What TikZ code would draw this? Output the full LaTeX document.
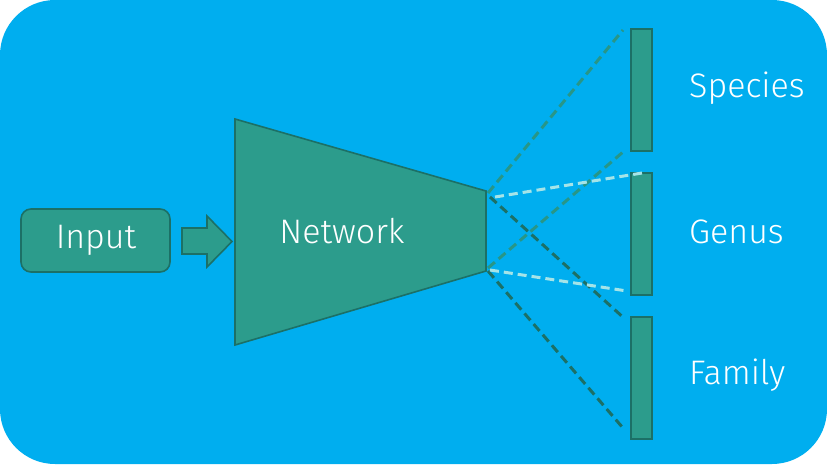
\documentclass[tikz,border=0pt]{standalone}
\usepackage{fontspec}
\setmainfont{Fira Sans Light}
\definecolor{sky}{RGB}{0,174,239}
\definecolor{tealfill}{RGB}{44,156,140}
\definecolor{tealline}{RGB}{28,112,102}
\definecolor{tealmid}{RGB}{40,150,135}
\definecolor{paleline}{RGB}{165,228,232}
\tikzset{
  block/.style={fill=tealfill, draw=tealline, line width=1.6pt},
  label/.style={text=white, font=\fontsize{34}{40}\selectfont, inner sep=0pt},
  link/.style={dashed, dash pattern=on 9pt off 5pt, line width=3pt},
  bar/.style={block, minimum width=21pt, minimum height=122pt, inner sep=0pt},
}
\begin{document}
\begin{tikzpicture}[x=1pt, y=-1pt]
  \useasboundingbox (0,0) rectangle (827,464);
  % backdrop
  \fill[sky, rounded corners=55pt] (0,0) rectangle (827,464);

  % input block
  \node[block, rounded corners=10pt, minimum width=149pt, minimum height=63pt, anchor=center] (input) at (95.5,240.5) {};
  \node[label] at (96,240) {Input};

  % block arrow into the network
  \draw[block, line join=miter] (182,228) -- (207,228) -- (207,216) -- (232,241.5)
        -- (207,267) -- (207,254) -- (182,254) -- cycle;

  % network trapezoid
  \coordinate (n1) at (235,119);
  \coordinate (n2) at (486,191);
  \coordinate (n3) at (486,271);
  \coordinate (n4) at (235,345);
  \draw[block, line join=miter] (n1) -- (n2) -- (n3) -- (n4) -- cycle;
  \node[label] (net) at (342,231) {Network};

  % output bars
  \node[bar] (sp) at (641.5,90) {};
  \node[bar] (ge) at (641.5,234) {};
  \node[bar] (fa) at (641.5,378) {};

  \node[label, anchor=west] at (689,88) {Species};
  \node[label, anchor=west] at (689,232) {Genus};
  \node[label, anchor=west] at (689,375) {Family};

  % connector end points
  \coordinate (a1) at (488,193);
  \coordinate (a2) at (488,268);
  \coordinate (b1) at (495,197);
  \coordinate (b2) at (490,270);
  \coordinate (c1) at (490,197);
  \coordinate (c2) at (488,271);
  \coordinate (t1) at (623,30);
  \coordinate (t2) at (623,152);
  \coordinate (u1) at (642,173);
  \coordinate (u2) at (627,291);
  \coordinate (v1) at (625,319);
  \coordinate (v2) at (623,428);

  \draw[link, tealmid] (a1) -- (t1);
  \draw[link, tealmid] (a2) -- (t2);
  \draw[link, tealline] (c1) -- (v1);
  \draw[link, tealline] (c2) -- (v2);
  \draw[link, paleline] (b1) -- (u1);
  \draw[link, paleline] (b2) -- (u2);
\end{tikzpicture}
\end{document}
